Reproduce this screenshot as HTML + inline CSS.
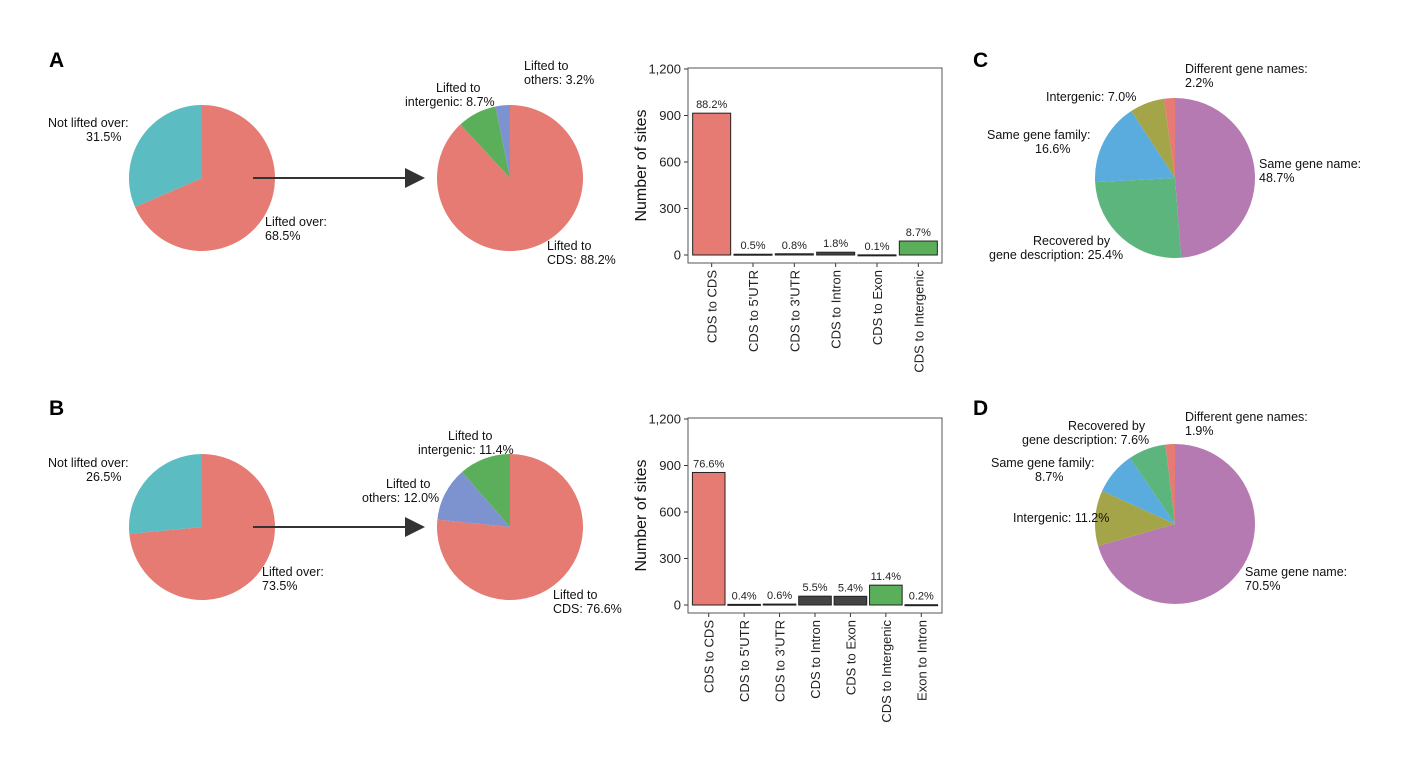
<!DOCTYPE html>
<html><head><meta charset="utf-8"><style>
body{margin:0;background:#fff;}
svg{font-family:"Liberation Sans",Arial,sans-serif;}
</style></head><body>
<svg id="fig" width="1410" height="752" xmlns="http://www.w3.org/2000/svg">
<defs><marker id="ah" markerWidth="10" markerHeight="10" refX="9" refY="5" orient="auto"><path d="M0,0 L10,5 L0,10 z" fill="#333"/></marker></defs>
<g id="pies"></g>
<g id="bars"></g>
<g font-weight="bold" font-size="21">
<text x="49" y="67">A</text>
<text x="49" y="415">B</text>
<text x="973" y="67">C</text>
<text x="973" y="415">D</text>
</g>
<line x1="253" y1="178" x2="423" y2="178" stroke="#333" stroke-width="2" marker-end="url(#ah)"/>
<line x1="253" y1="527" x2="423" y2="527" stroke="#333" stroke-width="2" marker-end="url(#ah)"/>
<g font-size="12.5" fill="#111" id="labels">
<text x="48" y="127">Not lifted over:</text>
<text x="86" y="141">31.5%</text>
<text x="265" y="226">Lifted over:</text>
<text x="265" y="240">68.5%</text>
<text x="436" y="92">Lifted to</text>
<text x="405" y="106">intergenic: 8.7%</text>
<text x="524" y="70">Lifted to</text>
<text x="524" y="84">others: 3.2%</text>
<text x="547" y="250">Lifted to</text>
<text x="547" y="264">CDS: 88.2%</text>
<text x="48" y="467">Not lifted over:</text>
<text x="86" y="481">26.5%</text>
<text x="262" y="576">Lifted over:</text>
<text x="262" y="590">73.5%</text>
<text x="448" y="440">Lifted to</text>
<text x="418" y="454">intergenic: 11.4%</text>
<text x="386" y="488">Lifted to</text>
<text x="362" y="502">others: 12.0%</text>
<text x="553" y="599">Lifted to</text>
<text x="553" y="613">CDS: 76.6%</text>
<text x="1185" y="73">Different gene names:</text>
<text x="1185" y="87">2.2%</text>
<text x="1046" y="101">Intergenic: 7.0%</text>
<text x="987" y="139">Same gene family:</text>
<text x="1035" y="153">16.6%</text>
<text x="1259" y="168">Same gene name:</text>
<text x="1259" y="182">48.7%</text>
<text x="1033" y="245">Recovered by</text>
<text x="989" y="259">gene description: 25.4%</text>
<text x="1185" y="421">Different gene names:</text>
<text x="1185" y="435">1.9%</text>
<text x="1068" y="430">Recovered by</text>
<text x="1022" y="444">gene description: 7.6%</text>
<text x="991" y="467">Same gene family:</text>
<text x="1035" y="481">8.7%</text>
<text x="1013" y="522">Intergenic: 11.2%</text>
<text x="1245" y="576">Same gene name:</text>
<text x="1245" y="590">70.5%</text>
</g>
</svg>
<script>
const NS="http://www.w3.org/2000/svg";
const pieA1Values=[68.5,31.5];
const pieA2Values=[88.2,8.7,3.2];
const pieB1Values=[73.5,26.5];
const pieB2Values=[76.6,12.0,11.4];
const pieCValues=[48.7,25.4,16.6,7.0,2.2];
const pieDValues=[70.5,11.2,8.7,7.6,1.9];
const barACategories=["CDS to CDS","CDS to 5'UTR","CDS to 3'UTR","CDS to Intron","CDS to Exon","CDS to Intergenic"];
const barAValues=[915,5,8,18,1,90];
const barALabels=["88.2%","0.5%","0.8%","1.8%","0.1%","8.7%"];
const barBCategories=["CDS to CDS","CDS to 5'UTR","CDS to 3'UTR","CDS to Intron","CDS to Exon","CDS to Intergenic","Exon to Intron"];
const barBValues=[855,4,6,57,56,128,2];
const barBLabels=["76.6%","0.4%","0.6%","5.5%","5.4%","11.4%","0.2%"];
const yTicks=[0,300,600,900,1200];
const yTickLabels=["0","300","600","900","1,200"];

const piesG=document.getElementById('pies'), barsG=document.getElementById('bars');
const R='#E57B72',T='#5BBCC1',G='#5BAF5B',B='#7C93CF',P='#B57AB2',G2='#5DB57E',B2='#5AABDE',O='#A4A449',D='#444';
function el(tag,attrs,parent){const e=document.createElementNS(NS,tag);for(const k in attrs)e.setAttribute(k,attrs[k]);parent.appendChild(e);return e;}
function pie(cx,cy,r,vals,cols,name){
  const g=el('g',{},piesG);
  
  
  const tot=vals.reduce((a,b)=>a+b,0);let a=-Math.PI/2;
  vals.forEach((v,i)=>{const a2=a+v/tot*2*Math.PI;
    const x1=cx+r*Math.cos(a),y1=cy+r*Math.sin(a),x2=cx+r*Math.cos(a2),y2=cy+r*Math.sin(a2);
    const p=el('path',{d:`M${cx},${cy}L${x1},${y1}A${r},${r} 0 ${a2-a>Math.PI?1:0} 1 ${x2},${y2}Z`,fill:cols[i]},g);
    
    
    a=a2;});
}
pie(202,178,73,pieA1Values,[R,T],'pie-a-liftover');
pie(510,178,73,pieA2Values,[R,G,B],'pie-a-lifted-to');
pie(202,527,73,pieB1Values,[R,T],'pie-b-liftover');
pie(510,527,73,pieB2Values,[R,B,G],'pie-b-lifted-to');
pie(1175,178,80,pieCValues,[P,G2,B2,O,R],'pie-c');
pie(1175,524,80,pieDValues,[P,O,B2,G2,R],'pie-d');

function bar(x0,x1,top,bot,cats,vals,labs,name){
  const g=el('g',{},barsG);
  
  
  const y0=bot-8,yMax=top+1;
  const ys=v=>y0-(v/1200)*(y0-yMax);
  const n=cats.length,step=(x1-x0-6)/n;
  const xs=i=>x0+3+step*(i+0.5);
  const bw=step*0.92;
  yTicks.forEach((t,i)=>{const y=ys(t);
    el('line',{x1:x0-4,x2:x0,y1:y,y2:y,stroke:'#333'},g);
    const tx=el('text',{x:x0-7,y:y+4.5,'text-anchor':'end','font-size':'13',fill:'#222'},g);tx.textContent=yTickLabels[i];
    
    
  });
  vals.forEach((v,i)=>{
    const c=i==0?R:(cats[i]=="CDS to Intergenic"?G:D);
    const r=el('rect',{x:xs(i)-bw/2,y:ys(v),width:bw,height:Math.max(y0-ys(v),1),fill:c,stroke:'#222','stroke-width':1},g);
    
    
    const lt=el('text',{x:xs(i),y:ys(v)-5,'text-anchor':'middle','font-size':'11',fill:'#222'},g);lt.textContent=labs[i];
    
    
    el('line',{x1:xs(i),x2:xs(i),y1:bot,y2:bot+4,stroke:'#333'},g);
    const ct=el('text',{transform:`translate(${xs(i)+5},${bot+7}) rotate(-90)`,'text-anchor':'end','font-size':'13',fill:'#222'},g);ct.textContent=cats[i];
    
    
  });
  const fr=el('rect',{x:x0,y:top,width:x1-x0,height:bot-top,fill:'none',stroke:'#555','stroke-width':1},g);
  
  
  const yt=el('text',{transform:`translate(${x0-42},${(top+bot)/2}) rotate(-90)`,'text-anchor':'middle','font-size':'16',fill:'#111'},g);yt.textContent='Number of sites';
  
  
}
bar(688,942,68,263,barACategories,barAValues,barALabels,'bar-chart-a');
bar(688,942,418,613,barBCategories,barBValues,barBLabels,'bar-chart-b');
</script>
</body></html>
